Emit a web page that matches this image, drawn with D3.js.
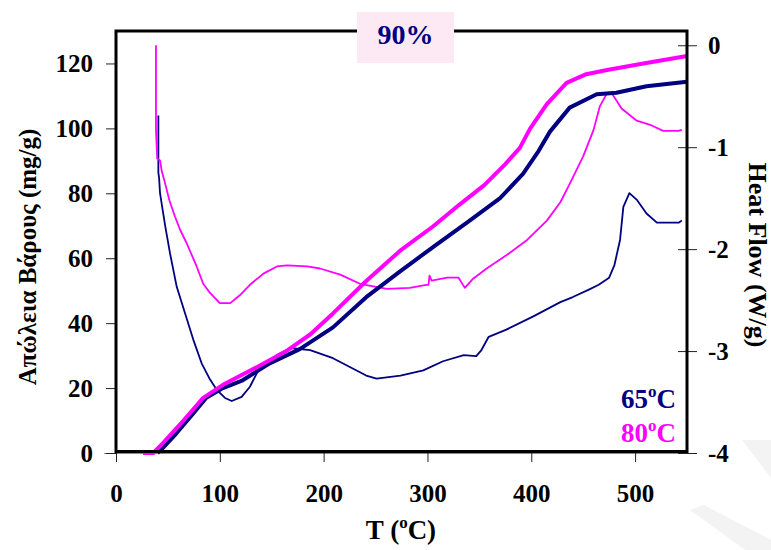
<!DOCTYPE html>
<html>
<head>
<meta charset="utf-8">
<script src="https://cdn.jsdelivr.net/npm/d3@7"></script>
<style>
  html, body { margin: 0; padding: 0; background: #ffffff; }
  svg { display: block; }
  text { font-family: "Liberation Serif", "Times New Roman", serif; font-weight: bold; }
</style>
</head>
<body>
<svg id="chart" width="771" height="550"></svg>
<script>
// ---------- data ----------
const xTicks = [0, 100, 200, 300, 400, 500];
const leftTicks = [0, 20, 40, 60, 80, 100, 120];
const rightTicks = [-4, -3, -2, -1, 0];
const rightTickLabels = ["-4", "-3", "-2", "-1", "0"];

// weight loss, 65 °C (left axis)
const tWL65 = [40, 45, 58, 74, 87, 103, 122, 148, 177, 209, 241, 274, 306, 338, 370, 392, 407, 418, 437, 463, 482, 511, 550];
const wl65  = [0, 1.5, 6, 12, 17, 20, 22.4, 27.6, 32, 38.7, 48, 56, 63.6, 71, 78.5, 86, 93, 99, 106.4, 110.5, 111, 113, 114.4];

// weight loss, 80 °C (left axis)
const tWL80 = [26, 36, 45, 65, 84, 103, 136, 165, 187, 209, 241, 274, 305, 330, 355, 375, 389, 399, 415, 434, 453, 473, 508, 550];
const wl80  = [0, 0, 3, 10, 17, 21, 26.5, 31.6, 36.5, 43, 53, 62.4, 69.7, 76.3, 82.6, 89, 94, 100, 107.5, 114, 116.7, 118, 120, 122.3];

// heat flow, 65 °C (right axis)
const tHF65 = [40.8, 40.8, 41.5, 42.4, 45, 47.5, 52, 58.5, 66.5, 74.5, 82.5, 90.6, 97, 105, 111.5, 121, 129, 139, 155, 168, 187, 209, 241, 251, 274, 296, 315, 335, 347, 352, 359, 376, 402, 428, 440, 455, 465, 475, 480, 485.5, 488.7, 494.5, 502, 511, 521, 542, 545];
const hf65  = [-0.69, -1.25, -1.30, -1.45, -1.62, -1.78, -2.04, -2.37, -2.63, -2.89, -3.12, -3.28, -3.38, -3.46, -3.49, -3.45, -3.35, -3.15, -3.04, -2.97, -2.99, -3.07, -3.24, -3.27, -3.24, -3.19, -3.10, -3.04, -3.05, -2.99, -2.86, -2.79, -2.66, -2.52, -2.47, -2.40, -2.35, -2.28, -2.16, -1.91, -1.585, -1.45, -1.52, -1.65, -1.74, -1.74, -1.72];

// heat flow, 80 °C (right axis)
const tHF80 = [38.5, 38.5, 39.7, 42.4, 44, 47.2, 51.4, 56.8, 61.7, 68, 77.7, 84, 90.6, 100, 110, 119.5, 129, 142, 155, 164.5, 184, 196.5, 216, 235, 261, 283, 299, 301, 302, 304, 319, 330, 336, 344, 357, 376, 396, 415, 428, 437, 450, 460, 466, 473, 477.5, 487, 501.6, 514.5, 527, 541.7, 545];
const hf80  = [0, -0.83, -1.11, -1.13, -1.23, -1.35, -1.52, -1.68, -1.81, -1.94, -2.17, -2.34, -2.43, -2.53, -2.53, -2.45, -2.35, -2.24, -2.17, -2.16, -2.17, -2.19, -2.25, -2.34, -2.39, -2.38, -2.35, -2.35, -2.26, -2.31, -2.28, -2.28, -2.38, -2.29, -2.19, -2.06, -1.91, -1.72, -1.54, -1.36, -1.09, -0.83, -0.60, -0.47, -0.47, -0.62, -0.74, -0.78, -0.84, -0.84, -0.83];

const titleText = "90%";
const legendLabels = ["65", "80"];
const navy = "#000080", magenta = "#ff00ff";

// ---------- layout ----------
const svg = d3.select("#chart");
const L = 116, R = 687, T = 31, B = 453;

const x = d3.scaleLinear().domain([0, 550]).range([L, R]);
const yL = d3.scaleLinear().domain([0, 130]).range([B, T]);
const yR = d3.scaleLinear().domain([-4, 0.14]).range([B, T]);

// faint watermark in bottom-right corner
svg.append("path")
  .attr("d", "M742,440 L771,440 L771,478 Z")
  .attr("fill", "#f3f3f3");
svg.append("path")
  .attr("d", "M690,510 L704,505 L771,540 L771,550 L745,550 Z")
  .attr("fill", "#f3f3f3");

// ---------- axes ----------
const axX = svg.append("g").attr("transform", `translate(0,${B})`)
  .call(d3.axisBottom(x).tickValues(xTicks).tickSize(9).tickPadding(22).tickFormat(d3.format("d")));
axX.select(".domain").attr("stroke", "#888").attr("d", `M${L-12},0.5H${R+10}`);

const axL = svg.append("g").attr("transform", `translate(${L},0)`)
  .call(d3.axisLeft(yL).tickValues(leftTicks).tickSize(10).tickPadding(13).tickFormat(d3.format("d")));
axL.select(".domain").remove();

const axR = svg.append("g").attr("transform", `translate(${R},0)`)
  .call(d3.axisRight(yR).tickValues(rightTicks).tickSize(10).tickPadding(11)
    .tickFormat((d, i) => rightTickLabels[i]));
axR.select(".domain").remove();
axR.selectAll(".tick line").attr("x1", -9);

[axX, axL, axR].forEach(g => {
  g.selectAll(".tick text")
    .attr("fill", "#000")
    .style("font-family", '"Liberation Serif", "Times New Roman", serif')
    .style("font-weight", "bold")
    .style("font-size", "25px");
  g.selectAll(".tick line").attr("stroke", "#222");
});

// ---------- lines ----------
const lineL = d3.line().x(d => x(d[0])).y(d => yL(d[1]));
const lineR = d3.line().x(d => x(d[0])).y(d => yR(d[1]));
const plot = svg.append("g");

plot.append("path").datum(d3.zip(tHF65, hf65)).attr("d", lineR)
  .attr("fill", "none").attr("stroke", navy).attr("stroke-width", 1.8).attr("stroke-linejoin", "round");
plot.append("path").datum(d3.zip(tHF80, hf80)).attr("d", lineR)
  .attr("fill", "none").attr("stroke", magenta).attr("stroke-width", 1.8).attr("stroke-linejoin", "round");
plot.append("path").datum(d3.zip(tWL65, wl65)).attr("d", lineL)
  .attr("fill", "none").attr("stroke", navy).attr("stroke-width", 4).attr("stroke-linejoin", "round");
plot.append("path").datum(d3.zip(tWL80, wl80)).attr("d", lineL)
  .attr("fill", "none").attr("stroke", magenta).attr("stroke-width", 4).attr("stroke-linejoin", "round");

// frame
svg.append("rect").attr("x", L).attr("y", T).attr("width", R - L).attr("height", B - T - 1.5)
  .attr("fill", "none").attr("stroke", "#000").attr("stroke-width", 3);

// ---------- title box ----------
svg.append("rect").attr("x", 357).attr("y", 12).attr("width", 97).attr("height", 51).attr("fill", "#fde9f3");
svg.append("text").attr("x", 405.5).attr("y", 44).attr("text-anchor", "middle")
  .attr("fill", navy).style("font-size", "28px").text(titleText);

// ---------- legend ----------
const legColors = [navy, magenta];
const legY = [408, 442];
legendLabels.forEach((lab, i) => {
  const t = svg.append("text").attr("x", 676).attr("y", legY[i]).attr("text-anchor", "end")
    .attr("fill", legColors[i]).style("font-size", "27px");
  t.append("tspan").text(lab);
  t.append("tspan").attr("dy", -11).style("font-size", "17px").text("o");
  t.append("tspan").attr("dy", 11).text("C");
});

// ---------- axis titles ----------
svg.append("text").attr("transform", "translate(36,257) rotate(-90)").attr("text-anchor", "middle")
  .attr("fill", "#000").style("font-size", "25px").text("Απώλεια Βάρους (mg/g)");
svg.append("text").attr("transform", "translate(749,255) rotate(90)").attr("text-anchor", "middle")
  .attr("fill", "#000").style("font-size", "26px").text("Heat Flow (W/g)");
const xt = svg.append("text").attr("x", 401).attr("y", 539).attr("text-anchor", "middle")
  .attr("fill", "#000").style("font-size", "27px");
xt.append("tspan").text("T (");
xt.append("tspan").attr("dy", -11).style("font-size", "17px").text("o");
xt.append("tspan").attr("dy", 11).text("C)");
</script>
</body>
</html>
